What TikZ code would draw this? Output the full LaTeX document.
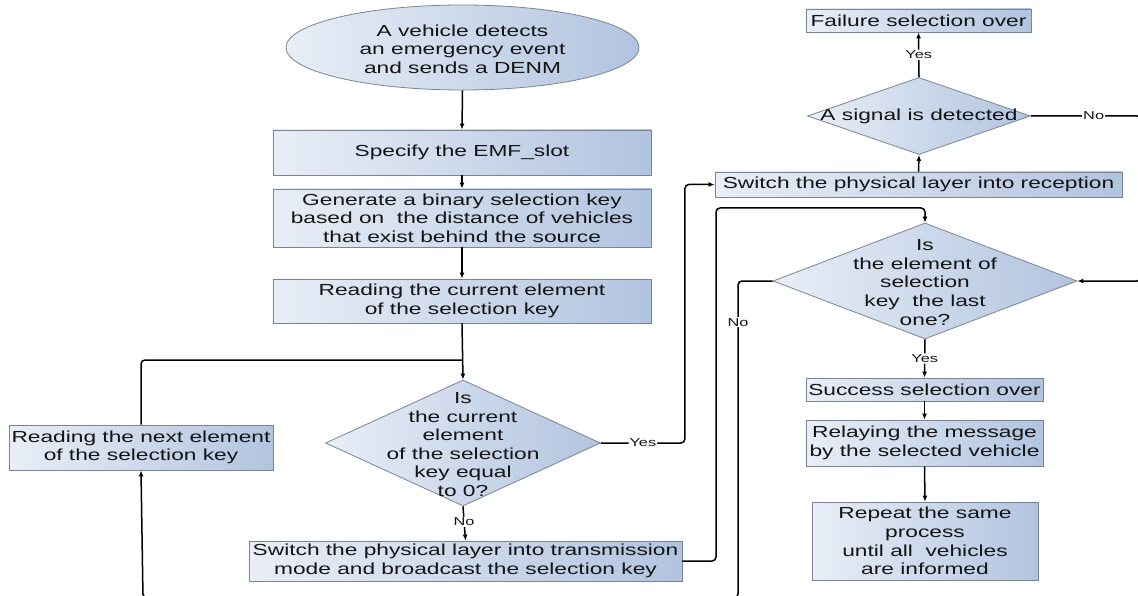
\documentclass[tikz,border=0pt]{standalone}
\usepackage{fontspec}
\setmainfont{Liberation Sans}[FakeStretch=1.42]
\usetikzlibrary{arrows.meta,shapes.geometric}
\definecolor{fl}{HTML}{E9EEF7}
\definecolor{fr}{HTML}{B1C4DF}
\definecolor{bd}{HTML}{7A8494}
\definecolor{tx}{HTML}{141414}
\tikzset{
  boxst/.style={draw=bd, line width=0.8pt, left color=fl, right color=fr, rectangle, inner sep=0pt,
    align=center, text=tx, font=\fontsize{16}{18.6}\selectfont},
  diast/.style={draw=bd, line width=0.8pt, left color=fl, right color=fr, diamond, inner sep=0pt},
  ellst/.style={draw=bd, line width=0.8pt, left color=fl, right color=fr, ellipse, inner sep=0pt},
  txt/.style={align=center, inner sep=0pt, text=tx, font=\fontsize{16}{18.6}\selectfont},
  conn/.style={line width=1.5pt, -{Latex[length=6pt,width=5pt]}, rounded corners=4pt},
  plain/.style={line width=1.5pt, rounded corners=4pt},
  lbl/.style={fill=white, inner sep=1pt, text=tx, font=\fontsize{11.5}{12}\selectfont}
}
\begin{document}
\begin{tikzpicture}[x=1pt,y=-1pt]
\useasboundingbox (0,0) rectangle (1138,596);
\fill[white] (0,0) rectangle (1138,596);

% left column
\node[ellst, minimum width=353pt, minimum height=85pt] (ell) at (462.5,47.5) {};
\node[txt] (ellt) at (462.5,49) {A vehicle detects\\an emergency event\\and sends a DENM};
\node[boxst, minimum width=378pt, minimum height=45pt] (spec) at (462,152.5) {Specify the EMF\_slot};
\node[boxst, minimum width=378pt, minimum height=58pt] (gen) at (462,218) {Generate a binary selection key\\based on\ \ the distance of vehicles\\that exist behind the source};
\node[boxst, minimum width=378pt, minimum height=44pt] (cur) at (462,301) {Reading the current element\\of the selection key};
\node[diast, minimum width=275pt, minimum height=126pt] (d1) at (463,443) {};
\node[txt] (d1t) at (463,444.5) {Is\\the current\\element\\of the selection\\key equal\\to 0?};
\node[boxst, minimum width=264pt, minimum height=45pt] (next) at (141,447.5) {Reading the next element\\of the selection key};
\node[boxst, minimum width=433pt, minimum height=40pt] (trans) at (465.5,561) {Switch the physical layer into transmission\\mode and broadcast the selection key};

% right column
\node[boxst, minimum width=225pt, minimum height=23pt] (fail) at (918.5,20.5) {Failure selection over};
\node[diast, minimum width=223pt, minimum height=77pt] (d3) at (919,116) {};
\node[txt] (d3t) at (919,116) {A signal is detected};
\node[boxst, minimum width=407pt, minimum height=25pt] (recep) at (918.5,184.5) {Switch the physical layer into reception};
\node[diast, minimum width=304pt, minimum height=116pt] (d2) at (925,281) {};
\node[txt] (d2t) at (925,282.5) {Is\\the element of\\selection\\key\ \ the last\\one?};
\node[boxst, minimum width=237pt, minimum height=23pt] (succ) at (924.5,389.5) {Success selection over};
\node[boxst, minimum width=237pt, minimum height=46pt] (relay) at (924.5,443) {Relaying the message\\by the selected vehicle};
\node[boxst, minimum width=226pt, minimum height=78pt] (rep) at (925,541) {Repeat the same\\process\\until all\ \ vehicles\\are informed};

\coordinate (j) at (463,360);

% connectors
\draw[conn] (ell.south) -- (spec.north);
\draw[conn] (spec.south) -- (gen.north);
\draw[conn] (gen.south) -- (cur.north);
\draw[conn] (cur.south) -- (d1.north);
\draw[plain] (next.north) |- (j);
\draw[conn] (d1.east) -- node[lbl]{Yes} ++(84,0) |- (recep.west);
\draw[conn] (d1.south) -- node[lbl, pos=0.45]{No} (trans.north);
\draw[conn] (trans.east) -- (716,561) -- (716,208) -- (925,208) -- (d2.north);
\draw[conn] (d2.west) -- (738,281) -- node[lbl, pos=0.13]{No} (738,598) -- (143,598) -- (next.south);
\draw[conn] (d3.east) -- node[lbl, pos=0.57]{No} (1141,116) -- (1141,281) -- (d2.east);
\draw[conn] (d2.south) -- node[lbl]{Yes} (succ.north);
\draw[conn] (succ.south) -- (relay.north);
\draw[conn] (relay.south) -- (rep.north);
\draw[conn] (recep.north) -- (d3.south);
\draw[conn] (d3.north) -- node[lbl]{Yes} (fail.south);
\end{tikzpicture}
\end{document}
